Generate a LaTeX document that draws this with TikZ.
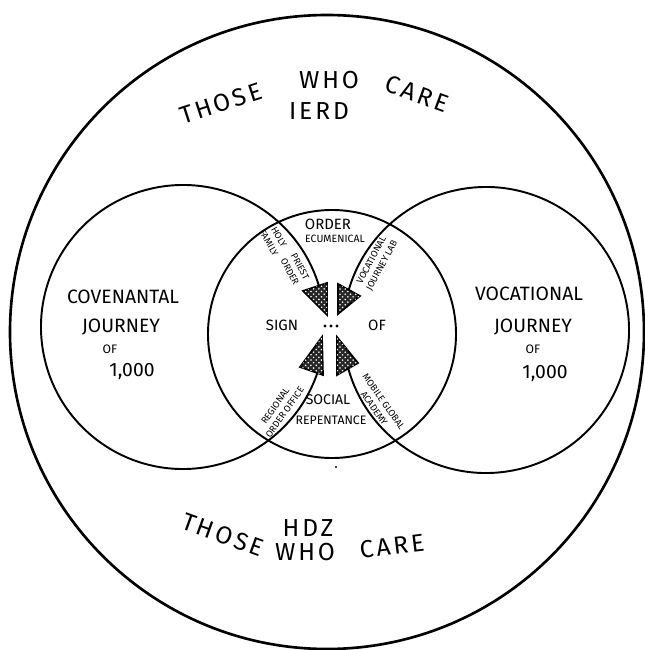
\documentclass[tikz,border=0pt]{standalone}
\usepackage{fontspec}
\setmainfont{Fira Sans}
\usepackage{tikz}
\usetikzlibrary{patterns}

\begin{document}
\begin{tikzpicture}[x=0.02cm,y=0.02cm,
    ring/.style={line width=1.1pt},
    wedge/.style={draw,line width=1pt,fill=black!85,postaction={pattern=crosshatch dots,pattern color=white}},
    big/.style={inner sep=0pt,font=\fontsize{14}{14}\selectfont\addfontfeature{LetterSpace=12}},
    mid/.style={inner sep=0pt,font=\fontsize{11}{13}\selectfont},
    small/.style={inner sep=0pt,font=\fontsize{8.5}{9}\selectfont},
    tiny/.style={inner sep=0pt,align=center,font=\fontsize{5.3}{6.6}\selectfont}]
        \useasboundingbox (0,0) rectangle (645,650);
        % circles
        \draw[line width=1.5pt] (327,318) circle (317);
        \draw[ring] (332,316) circle (124);
        \draw[ring] (183,323) ++(13:142) arc (13:347:142);
        \draw[ring] (486,320) ++(-166:143) arc (-166:166:143);
        % wedges
        \filldraw[wedge] (303,359) -- (327,367) -- (327,335) -- cycle;
        \filldraw[wedge] (338,366) -- (360,354) -- (338,336) -- cycle;
        \filldraw[wedge] (322,313) -- (300,283) -- (323,275) -- cycle;
        \filldraw[wedge] (337,313) -- (337,275) -- (358,287) -- cycle;
        \node[circle,fill,inner sep=0.7pt] (d1) at (325,324) {};
        \node[circle,fill,inner sep=0.7pt] (d2) at (331,324) {};
        \node[circle,fill,inner sep=0.7pt] (d3) at (337,324) {};
        \node[circle,fill,inner sep=0.5pt] (dot) at (336,183) {};
        % outer texts
        \node[big,rotate=18] (t1) at (221,547) {THOSE};
        \node[big] (t2) at (329,570) {WHO};
        \node[big,rotate=-20] (t3) at (417,556) {CARE};
        \node[big] (ierd) at (319,539) {IERD};
        \node[big] (hdz) at (308,122) {HDZ};
        \node[big,rotate=-20] (b1) at (223,115) {THOSE};
        \node[big] (b2) at (305,98) {WHO};
        \node[big,rotate=7] (b3) at (392,104) {CARE};
        % left and right
        \node[mid] (cov) at (123,353) {COVENANTAL};
        \node[mid] (cj) at (121,323) {JOURNEY};
        \node[small,font=\fontsize{7}{8}\selectfont] (cof) at (110,301) {OF};
        \node[mid] (cn) at (132,278) {1,000};
        \node[mid] (voc) at (529,356) {VOCATIONAL};
        \node[mid] (vj) at (533,323) {JOURNEY};
        \node[small,font=\fontsize{7}{8}\selectfont] (vof) at (533,301) {OF};
        \node[mid] (vn) at (545,276) {1,000};
        % centre
        \node[small] (sign) at (282,325) {SIGN};
        \node[small] (of) at (377,325) {OF};
        \node[small] (order) at (328,426) {ORDER};
        \node[tiny,font=\fontsize{6}{7}\selectfont] (ecu) at (335,411) {ECUMENICAL};
        \node[small,font=\fontsize{8}{9}\selectfont] (soc) at (328,250) {SOCIAL};
        \node[tiny,font=\fontsize{7}{8}\selectfont] (rep) at (331,230) {REPENTANCE};
        % bands
        \node[tiny,rotate=-60] (holy) at (274,410) {HOLY\\FAMILY};
        \node[tiny,rotate=-62] (pres) at (295,381) {PRIEST\\ORDER};
        \node[tiny,rotate=62] (lab) at (377,387) {VOCATIONAL\\JOURNEY LAB};
        \node[tiny,rotate=55] (reg) at (280,241) {REGIONAL\\ORDER OFFICE};
        \node[tiny,rotate=-55] (acad) at (379,245) {MOBILE GLOBAL\\ACADEMY};
      \end{tikzpicture}
\end{document}
